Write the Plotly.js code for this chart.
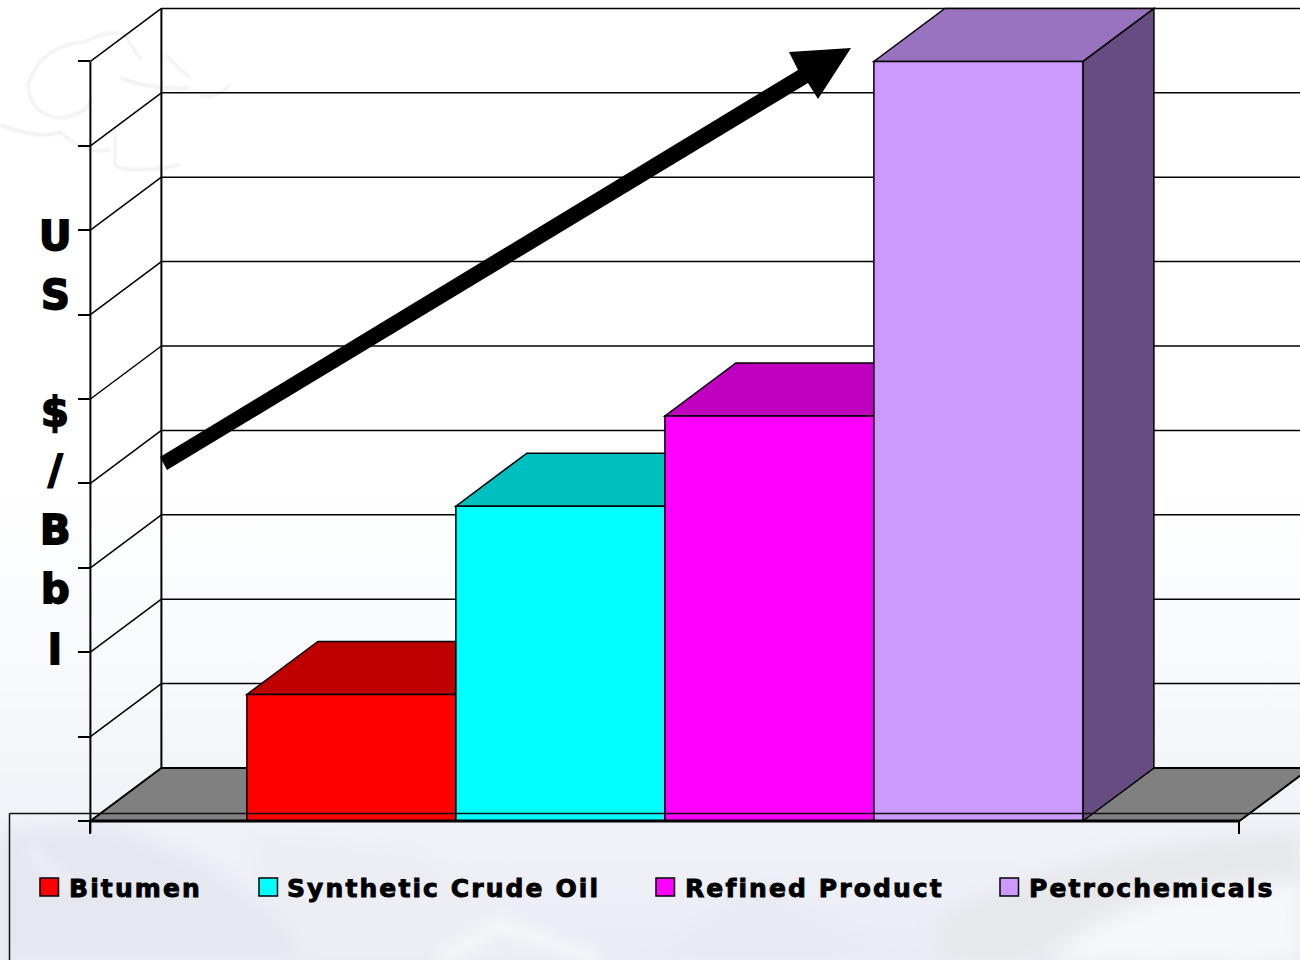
<!DOCTYPE html>
<html><head><meta charset="utf-8">
<script src="https://cdn.plot.ly/plotly-3.0.1.min.js"></script>
<style>
html,body{margin:0;padding:0;width:1300px;height:960px;overflow:hidden;background:#fff}
#bg{position:absolute;left:0;top:0;width:1300px;height:960px}
#chart{position:absolute;left:0;top:0;width:1300px;height:960px}
#chart .annotation-text{stroke:#000;stroke-width:1.8px;paint-order:stroke}
#chart .annotation.leg .annotation-text{letter-spacing:2.1px;stroke-width:.9px}
</style></head><body>
<svg id="bg" viewBox="0 0 1300 960" xmlns="http://www.w3.org/2000/svg">
 <defs>
  <linearGradient id="g" x1="0" y1="0" x2="0" y2="1">
   <stop offset="0" stop-color="#fff"/><stop offset=".5" stop-color="#fff"/>
   <stop offset=".68" stop-color="#f8fafc"/><stop offset=".84" stop-color="#f1f3f8"/><stop offset="1" stop-color="#e9ecf3"/>
  </linearGradient>
  <filter id="b8"><feGaussianBlur stdDeviation="9"/></filter>
  <filter id="b5"><feGaussianBlur stdDeviation="6"/></filter>
  <filter id="b1"><feGaussianBlur stdDeviation="1"/></filter>
 </defs>
 <rect width="1300" height="960" fill="url(#g)"/>
 <g fill="none" stroke="#f0f0f0" stroke-width="3" filter="url(#b1)">
  <path d="M28 85Q40 45 85 42Q105 30 125 35Q140 60 142 60M28 85Q30 115 60 118Q85 115 92 100M0 125Q40 140 60 132Q85 155 110 150M115 130V165Q130 175 180 165M120 78Q150 90 190 88M165 55L190 78M200 95Q215 100 230 85"/>
 </g>
 <g filter="url(#b8)">
  <path d="M0 830L110 825L200 860L330 960H0Z" fill="#e6e8f0"/>
  <path d="M240 830L420 850L560 960H300Z" fill="#eceef3"/>
  <path d="M640 960L760 880L900 960Z" fill="#e9ebf2"/>
  <path d="M940 920Q1060 850 1300 830V880Q1120 880 1040 960H940Z" fill="#e7e8ec"/>
  <path d="M1050 960Q1120 890 1300 885V960Z" fill="#f6f7f9"/>
 </g>
 <g filter="url(#b5)" fill="none" stroke="#f6f7fa" opacity=".8">
  <path d="M30 850L70 885" stroke-width="6"/>
  <path d="M440 960L500 925L600 960" stroke-width="16"/>
  <path d="M1150 960L1200 890M1240 960L1260 890" stroke-width="12"/>
 </g>
</svg>
<div id="chart"></div>
<script>
// ---- data ----
const categories = ["Bitumen","Synthetic Crude Oil","Refined Product","Petrochemicals"];
const values     = [15, 37.3, 48, 90];
const frontColors= ["#FF0000","#00FFFF","#FF00FF","#CC99FF"];
const topColors  = ["#BF0000","#00BFBF","#BF00BF","#9973BF"];
const sideColors = ["#800000","#008080","#800080","#664C80"];
const yTicks     = [0,10,20,30,40,50,60,70,80,90];
const axisLetters= ["U","S","$","/","B","b","l"];
const axisLetterY= [236,295,412,470,530,589,650];
const legendSwatchX=[40,259,656,1000];
const legendTextX  =[69,287,685,1029];

// ---- geometry of the pseudo-3D frame (pixels) ----
const W=1300,H=960, X0=90.4, X1=1239.4, Y0=821, UNIT=84.4/10, DX=71, DY=53;
const SPAN=X1-X0;
const xRange=[-0.5-X0/SPAN, -0.5+(W-X0)/SPAN];
const yRange=[-(H-Y0)/UNIT, Y0/UNIT];
const depthX=DX/SPAN, depthY=DY/UNIT;
const bargap=313/SPAN, barW=(1-bargap)/categories.length;
const barLeft=i=>-0.5+bargap/2+i*barW;
const yMax=yTicks[yTicks.length-1];
const px=x=>x/W, py=y=>(H-y)/H;

const poly=(pts,fill,lw=1.5)=>({type:'path',layer:'below',xref:'x',yref:'y',
  path:'M'+pts.map(p=>p.join(',')).join('L')+'Z',fillcolor:fill,line:{color:'#000',width:lw}});
const seg=(x0,y0,x1,y1,w=1.5,layer='below')=>({type:'line',layer,xref:'x',yref:'y',x0,y0,x1,y1,line:{color:'#000',width:w}});

const shapes=[];
// back-wall gridlines and left-wall slants
yTicks.forEach(v=>{
  shapes.push(seg(-0.5+depthX,v+depthY,xRange[1],v+depthY,1.5));
  if(v>0) shapes.push(seg(-0.5,v,-0.5+depthX,v+depthY,1.5));
});
// walls' vertical edges
shapes.push(seg(-0.5+depthX,depthY,-0.5+depthX,yMax+depthY,2));
// floor
shapes.push(poly([[-0.5,0],[0.5,0],[0.5+depthX,depthY],[-0.5+depthX,depthY]],'#808080',2));
shapes.push(seg(0.5+depthX,depthY,xRange[1],depthY,2));
// bar depth faces
categories.forEach((c,i)=>{
  const a=barLeft(i), b=a+barW, v=values[i];
  shapes.push(poly([[b,0],[b+depthX,depthY],[b+depthX,v+depthY],[b,v]],sideColors[i]));
  shapes.push(poly([[a,v],[b,v],[b+depthX,v+depthY],[a+depthX,v+depthY]],topColors[i]));
});
// front-plane axis lines
shapes.push(seg(-0.5,-12/UNIT,-0.5,yMax,2,'above'));
shapes.push(seg(-0.5,0,0.5,0,3,'above'));
// legend frame
const paperLine=(x0,y0,x1,y1,w)=>({type:'line',layer:'above',xref:'paper',yref:'paper',
  x0:px(x0),y0:py(y0),x1:px(x1),y1:py(y1),line:{color:'#111',width:w}});
shapes.push(paperLine(9.5,813.5,W,813.5,1.5), paperLine(9.5,813.5,9.5,H,1.5));
// legend swatches
categories.forEach((c,i)=>shapes.push({type:'rect',layer:'above',xref:'paper',yref:'paper',
  x0:px(legendSwatchX[i]),x1:px(legendSwatchX[i]+18.5),y0:py(896),y1:py(878),
  fillcolor:frontColors[i],line:{color:'#000',width:1.5}}));
// trend arrow
const arrowPts=[[160,457],[798,70],[789,52],[851,48],[818,99],[808,83],[167,470]];
shapes.push({type:'path',layer:'above',xref:'paper',yref:'paper',
  path:'M'+arrowPts.map(p=>px(p[0])+','+py(p[1])).join('L')+'Z',fillcolor:'#000',line:{color:'#000',width:0}});

const annotations=[];
axisLetters.forEach((t,i)=>annotations.push({xref:'paper',yref:'paper',x:px(55),y:py(axisLetterY[i]),
  xanchor:'center',yanchor:'middle',text:t,showarrow:false,
  font:{family:'"DejaVu Sans"',size:40,color:'#000',weight:700},borderpad:0,borderwidth:0}));
categories.forEach((t,i)=>annotations.push({xref:'paper',yref:'paper',x:px(legendTextX[i]),y:py(888),
  xanchor:'left',yanchor:'middle',align:'left',text:t,showarrow:false,
  font:{family:'"DejaVu Sans"',size:25,color:'#000',weight:700},borderpad:0,borderwidth:0}));

const traces=categories.map((c,i)=>({type:'bar',name:c,x:[0],y:[values[i]],
  marker:{color:frontColors[i],line:{color:'#000',width:1.5}},hoverinfo:'name+y'}));

Plotly.newPlot('chart',traces,{
  width:W,height:H,margin:{l:0,r:0,t:0,b:0,pad:0},
  paper_bgcolor:'rgba(0,0,0,0)',plot_bgcolor:'rgba(0,0,0,0)',
  barmode:'group',bargap:bargap,bargroupgap:0,showlegend:false,
  xaxis:{type:'linear',range:xRange,anchor:'free',position:py(Y0),showgrid:false,zeroline:false,showline:false,
    tickmode:'array',tickvals:[-0.5,0.5],ticktext:['',''],ticks:'outside',ticklen:12,tickwidth:1.5,tickcolor:'#000',showticklabels:false},
  yaxis:{range:yRange,anchor:'free',position:px(X0),showgrid:false,zeroline:false,showline:false,
    tickmode:'array',tickvals:yTicks,ticks:'outside',ticklen:12,tickwidth:1.5,tickcolor:'#000',showticklabels:false},
  shapes,annotations
},{displayModeBar:false,responsive:false}).then(()=>{
  document.querySelectorAll('#chart .annotation').forEach(g=>{
    if(categories.includes(g.textContent)) g.classList.add('leg');
  });
});
</script>
</body></html>
